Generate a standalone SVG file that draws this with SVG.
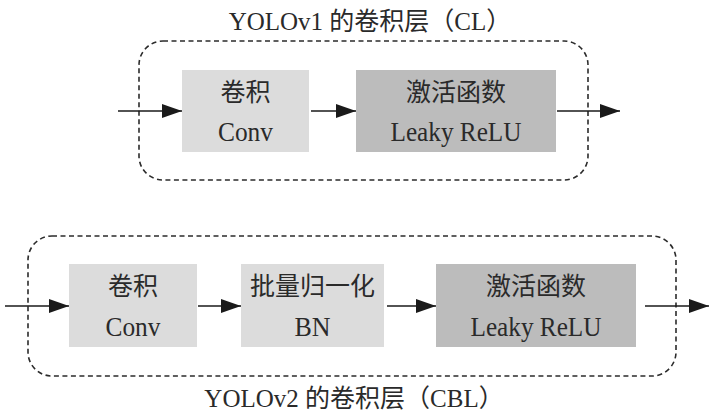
<svg xmlns="http://www.w3.org/2000/svg" width="720" height="415" viewBox="0 0 720 415">
<defs>
<style>
.frame{fill:none;stroke:#2b2b2b;stroke-width:1.6;stroke-dasharray:5 3.5}
.light{fill:#dcdcdc}
.dark{fill:#bcbcbc}
.edge{stroke:#1a1a1a;stroke-width:1.6;fill:none;marker-end:url(#ah)}
text{font-family:"Liberation Serif","Noto Sans CJK SC",serif;fill:#2a2a2a;text-anchor:middle}
.zh{font-size:25px}
.en{font-size:28px}
.ttl{font-size:25px}
</style>
<marker id="ah" viewBox="0 0 20 14" refX="20" refY="7" markerWidth="20" markerHeight="14" markerUnits="userSpaceOnUse" orient="auto">
<path d="M0,0 L20,7 L0,14 Z" fill="#1a1a1a"/>
</marker>
</defs>
<g id="frame-cl">
<rect class="frame" x="139" y="41" width="449" height="139" rx="24"/>
<text class="ttl" x="370" y="30">YOLOv1 的卷积层（CL）</text>
</g>
<g id="frame-cbl">
<rect class="frame" x="28" y="236" width="648" height="140" rx="24"/>
<text class="ttl" x="354" y="407">YOLOv2 的卷积层（CBL）</text>
</g>
<g id="cl-conv">
<rect class="light" x="182" y="70" width="127" height="82"/>
<text class="zh" x="245.5" y="101">卷积</text>
<text class="en" x="245.5" y="141" textLength="55" lengthAdjust="spacingAndGlyphs">Conv</text>
</g>
<g id="cl-act">
<rect class="dark" x="356" y="70" width="200" height="82"/>
<text class="zh" x="456" y="101">激活函数</text>
<text class="en" x="456" y="141" textLength="131" lengthAdjust="spacingAndGlyphs">Leaky ReLU</text>
</g>
<g id="cbl-conv">
<rect class="light" x="69" y="264" width="128" height="83"/>
<text class="zh" x="133" y="295">卷积</text>
<text class="en" x="133" y="336" textLength="55" lengthAdjust="spacingAndGlyphs">Conv</text>
</g>
<g id="cbl-bn">
<rect class="light" x="241" y="264" width="143" height="83"/>
<text class="zh" x="312.5" y="295">批量归一化</text>
<text class="en" x="312.5" y="336" textLength="36" lengthAdjust="spacingAndGlyphs">BN</text>
</g>
<g id="cbl-act">
<rect class="dark" x="436" y="264" width="200" height="83"/>
<text class="zh" x="536" y="295">激活函数</text>
<text class="en" x="536" y="336" textLength="131" lengthAdjust="spacingAndGlyphs">Leaky ReLU</text>
</g>
<g id="connectors">
<line class="edge" x1="118" y1="111" x2="182" y2="111"/>
<line class="edge" x1="311" y1="111" x2="356" y2="111"/>
<line class="edge" x1="557" y1="111" x2="620" y2="111"/>
<line class="edge" x1="5" y1="306" x2="69" y2="306"/>
<line class="edge" x1="198" y1="306" x2="241" y2="306"/>
<line class="edge" x1="387" y1="306" x2="436" y2="306"/>
<line class="edge" x1="645" y1="306" x2="709" y2="306"/>
</g>
</svg>
